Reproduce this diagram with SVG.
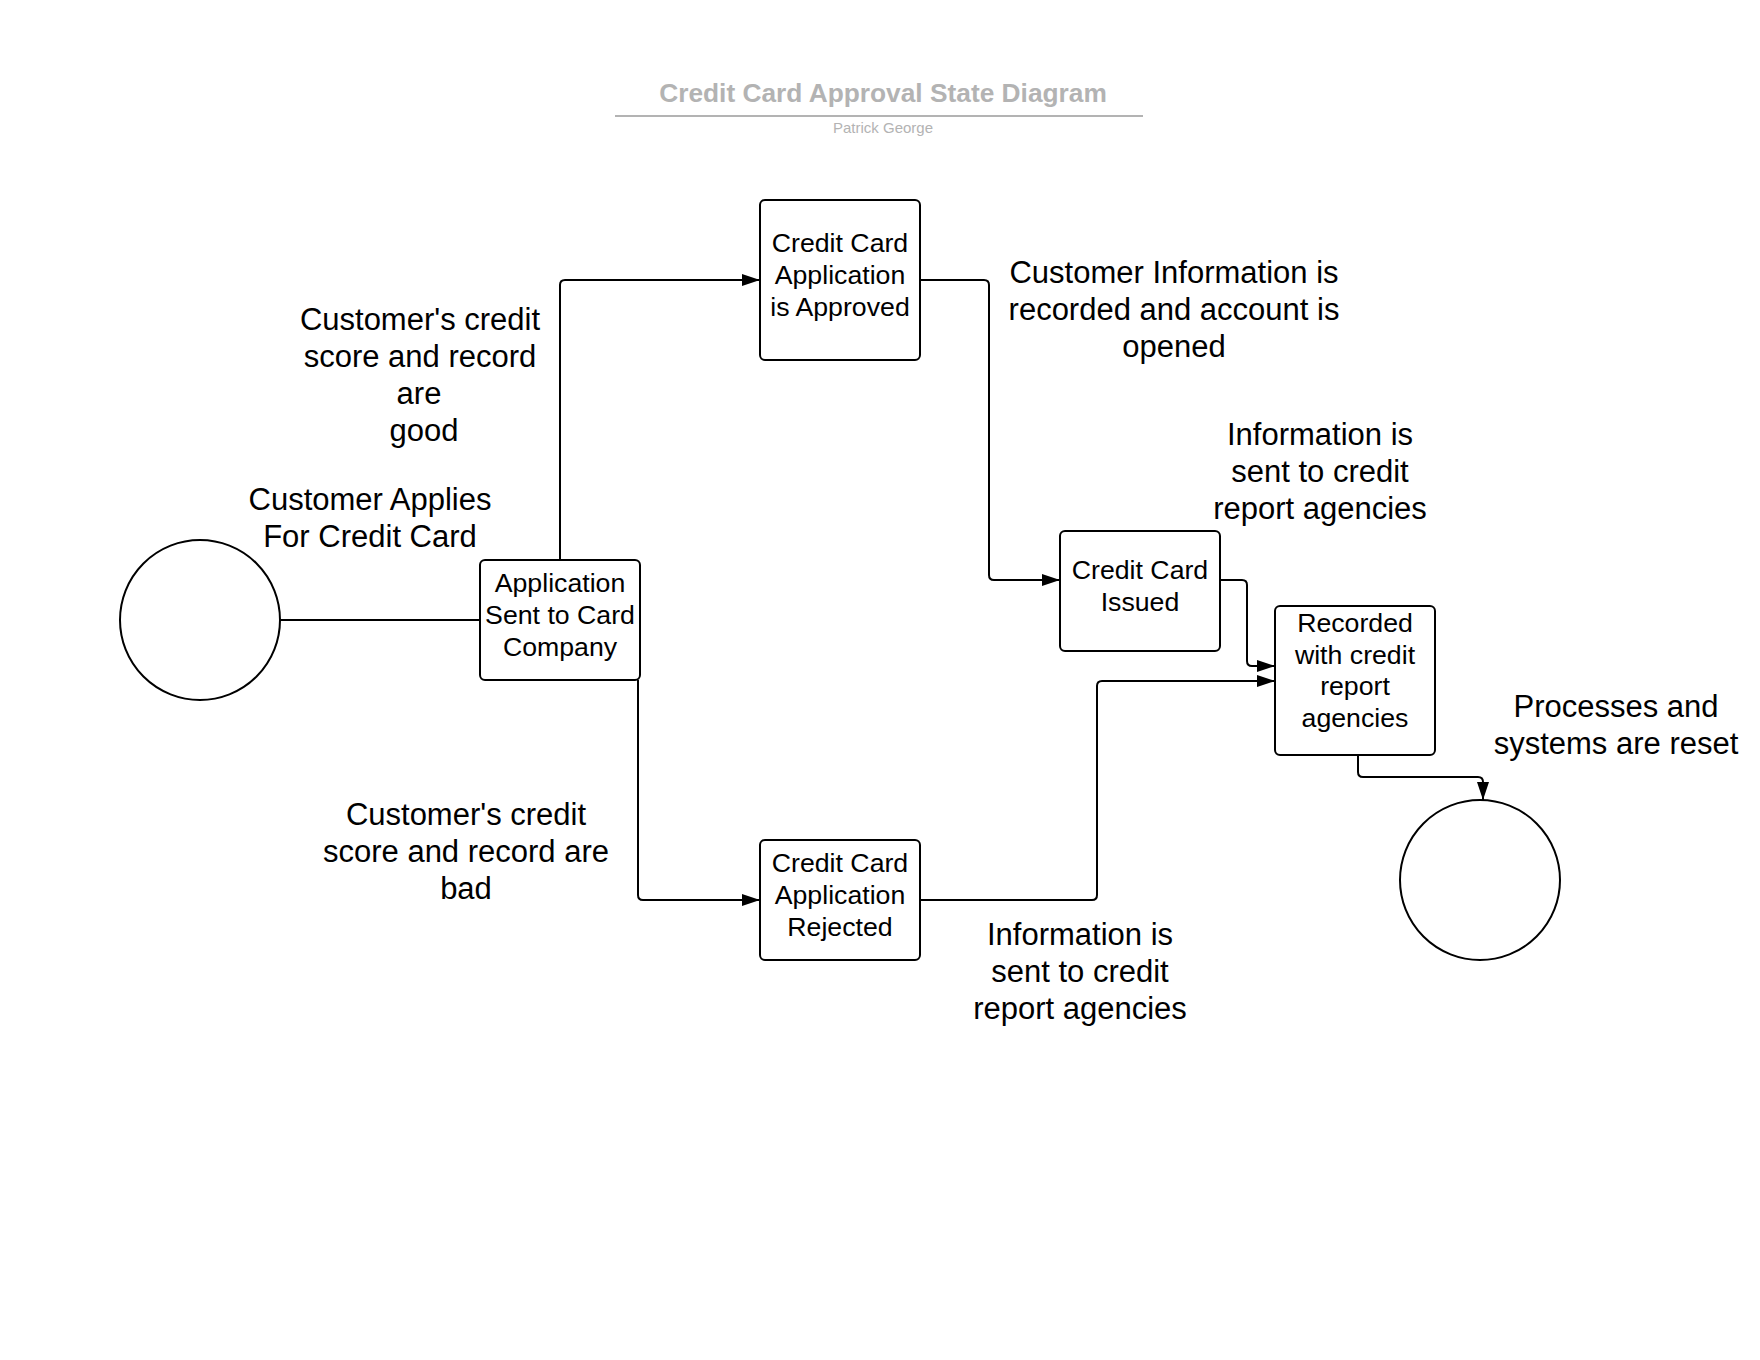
<svg xmlns="http://www.w3.org/2000/svg" width="1760" height="1360" viewBox="0 0 1760 1360">
<style>
text{font-family:"Liberation Sans",Arial,sans-serif;fill:#000;text-anchor:middle}
.box{fill:#fff;stroke:#000;stroke-width:2}
.circ{fill:#fff;stroke:#000;stroke-width:2}
.nt{font-size:26.7px}
.lbl{font-size:31px}
.conn path{fill:none;stroke:#000;stroke-width:2}
.title{font-size:26.3px;font-weight:bold;fill:#b3b3b3}
.sub{font-size:15px;fill:#b3b3b3}
</style>
<defs>
<marker id="arr" markerUnits="userSpaceOnUse" markerWidth="19" markerHeight="13" refX="18" refY="6" orient="auto">
<path d="M0,0 L18,6 L0,12 z" fill="#000"/>
</marker>
</defs>
<rect width="1760" height="1360" fill="#fff"/>
<g id="title">
<text class="title" x="883" y="102">Credit Card Approval State Diagram</text>
<line x1="615" y1="116" x2="1143" y2="116" stroke="#b3b3b3" stroke-width="2"/>
<text class="sub" x="883" y="133">Patrick George</text>
</g>
<g class="conn" id="connectors">
<path d="M280,620 H480"/>
<path d="M560,560 V285 Q560,280 565,280 H760" marker-end="url(#arr)"/>
<path d="M638,680 V895 Q638,900 643,900 H760" marker-end="url(#arr)"/>
<path d="M920,280 H984 Q989,280 989,285 V575 Q989,580 994,580 H1060" marker-end="url(#arr)"/>
<path d="M1220,580 H1242 Q1247,580 1247,585 V661 Q1247,666 1252,666 H1275" marker-end="url(#arr)"/>
<path d="M920,900 H1092 Q1097,900 1097,895 V686 Q1097,681 1102,681 H1275" marker-end="url(#arr)"/>
<path d="M1358,755 V772 Q1358,777 1363,777 H1478 Q1483,777 1483,782 V800" marker-end="url(#arr)"/>
</g>
<g id="start">
<circle class="circ" cx="200" cy="620" r="80"/>
</g>
<g id="app-sent">
<rect class="box" x="480" y="560" width="160" height="120" rx="5"/>
<text class="nt" x="560" y="592">Application</text>
<text class="nt" x="560" y="624">Sent to Card</text>
<text class="nt" x="560" y="656">Company</text>
</g>
<g id="approved">
<rect class="box" x="760" y="200" width="160" height="160" rx="5"/>
<text class="nt" x="840" y="252">Credit Card</text>
<text class="nt" x="840" y="284">Application</text>
<text class="nt" x="840" y="316">is Approved</text>
</g>
<g id="rejected">
<rect class="box" x="760" y="840" width="160" height="120" rx="5"/>
<text class="nt" x="840" y="872">Credit Card</text>
<text class="nt" x="840" y="904">Application</text>
<text class="nt" x="840" y="936">Rejected</text>
</g>
<g id="issued">
<rect class="box" x="1060" y="531" width="160" height="120" rx="5"/>
<text class="nt" x="1140" y="578.5">Credit Card</text>
<text class="nt" x="1140" y="610.5">Issued</text>
</g>
<g id="recorded">
<rect class="box" x="1275" y="606" width="160" height="149" rx="5"/>
<text class="nt" x="1355" y="631.5">Recorded</text>
<text class="nt" x="1355" y="663.5">with credit</text>
<text class="nt" x="1355" y="695">report</text>
<text class="nt" x="1355" y="727">agencies</text>
</g>
<g id="end">
<circle class="circ" cx="1480" cy="880" r="80"/>
</g>
<g id="labels">
<text class="lbl" x="370" y="510">Customer Applies</text>
<text class="lbl" x="370" y="547">For Credit Card</text>
<text class="lbl" x="420" y="330">Customer's credit</text>
<text class="lbl" x="420" y="367">score and record</text>
<text class="lbl" x="419" y="404">are</text>
<text class="lbl" x="424" y="441">good</text>
<text class="lbl" x="1174" y="283">Customer Information is</text>
<text class="lbl" x="1174" y="320">recorded and account is</text>
<text class="lbl" x="1174" y="357">opened</text>
<text class="lbl" x="1320" y="445">Information is</text>
<text class="lbl" x="1320" y="482">sent to credit</text>
<text class="lbl" x="1320" y="519">report agencies</text>
<text class="lbl" x="466" y="825">Customer's credit</text>
<text class="lbl" x="466" y="862">score and record are</text>
<text class="lbl" x="466" y="899">bad</text>
<text class="lbl" x="1080" y="945">Information is</text>
<text class="lbl" x="1080" y="982">sent to credit</text>
<text class="lbl" x="1080" y="1019">report agencies</text>
<text class="lbl" x="1616" y="717">Processes and</text>
<text class="lbl" x="1616" y="754">systems are reset</text>
</g>
</svg>
